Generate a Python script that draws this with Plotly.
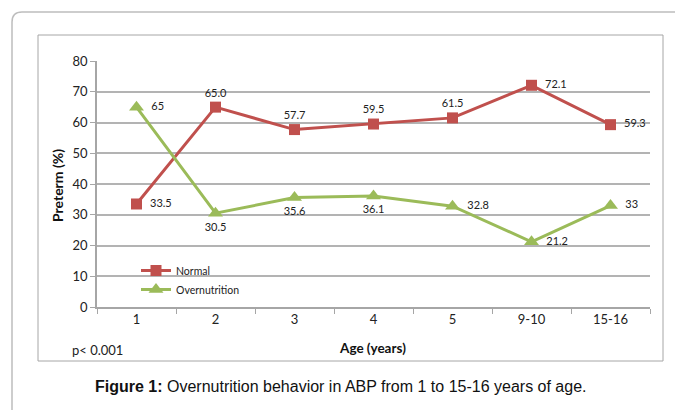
import plotly.graph_objects as go

categories = ["1", "2", "3", "4", "5", "9-10", "15-16"]
normal = [33.5, 65.0, 57.7, 59.5, 61.5, 72.1, 59.3]
normal_labels = ["33.5", "65.0", "57.7", "59.5", "61.5", "72.1", "59.3"]
normal_pos = ["middle right", "top center", "top center", "top center", "top center", "middle right", "middle right"]
overnutrition = [65, 30.5, 35.6, 36.1, 32.8, 21.2, 33]
over_labels = ["65", "30.5", "35.6", "36.1", "32.8", "21.2", "33"]
over_pos = ["middle right", "bottom center", "bottom center", "bottom center", "middle right", "middle right", "middle right"]
y_ticks = [0, 10, 20, 30, 40, 50, 60, 70, 80]

OFF = 8  # default page body margin
W, H = 683 - OFF, 410 - OFF
L, R, T, B = 97, 650, 61, 307

def px(x):
    return (x - L) / (R - L)

def py(y):
    return (B - y) / (B - T)

def pad_labels(labels, positions):
    return [("  " + t) if p == "middle right" else t for t, p in zip(labels, positions)]

RED = "#C0504D"
GREEN = "#9BBB59"
FONT = "Lato"

fig = go.Figure()
fig.add_trace(go.Scatter(
    x=categories, y=normal, name="Normal", mode="lines+markers+text",
    line=dict(color=RED, width=3), marker=dict(symbol="square", size=11, color=RED),
    text=pad_labels(normal_labels, normal_pos), textposition=normal_pos,
    textfont=dict(family=FONT, size=11, color="#222"),
))
fig.add_trace(go.Scatter(
    x=categories, y=overnutrition, name="Overnutrition", mode="lines+markers+text",
    line=dict(color=GREEN, width=3), marker=dict(symbol="triangle-up", size=13, color=GREEN),
    text=pad_labels(over_labels, over_pos), textposition=over_pos,
    textfont=dict(family=FONT, size=11, color="#222"),
))

shapes = [
    dict(type="path", xref="paper", yref="paper",
         path=f"M {px(12)},{py(412)} L {px(12)},{py(22)} Q {px(12)},{py(12)} {px(22)},{py(12)} L {px(684)},{py(12)}",
         line=dict(color="#BDBDBD", width=1.5)),
    dict(type="rect", xref="paper", yref="paper",
         x0=px(38), x1=px(663), y0=py(361), y1=py(35),
         line=dict(color="#A6A6A6", width=1)),
]

annotations = [
    dict(text="p< 0.001", xref="paper", yref="paper", x=px(70), y=py(350),
         xanchor="left", yanchor="middle", showarrow=False,
         font=dict(family=FONT, size=13, color="#222")),
    dict(text="<b>Figure 1:</b> Overnutrition behavior in ABP from 1 to 15-16 years of age.",
         xref="paper", yref="paper", x=px(341), y=py(386),
         xanchor="center", yanchor="middle", showarrow=False,
         font=dict(family="Liberation Sans", size=16, color="#111")),
    dict(text="<b>Age (years)</b>", xref="paper", yref="paper", x=px(372), y=py(348),
         xanchor="center", yanchor="middle", showarrow=False,
         font=dict(family=FONT, size=13.5, color="#111")),
    dict(text="<b>Preterm (%)</b>", xref="paper", yref="paper", x=px(57), y=py(186),
         xanchor="center", yanchor="middle", showarrow=False, textangle=-90,
         font=dict(family=FONT, size=14, color="#111")),
]

fig.update_layout(
    width=W, height=H,
    margin=dict(l=L - OFF, r=W - (R - OFF), t=T - OFF, b=H - (B - OFF), pad=0),
    paper_bgcolor="white", plot_bgcolor="white",
    shapes=shapes, annotations=annotations,
    showlegend=True,
    legend=dict(x=px(136), y=py(256), xanchor="left", yanchor="top",
                bgcolor="rgba(0,0,0,0)", font=dict(family=FONT, size=10.5, color="#222"),
                itemwidth=30, tracegroupgap=0),
    xaxis=dict(
        type="category", range=[-0.5, 6.5],
        showgrid=False, showline=True, linecolor="#A6A6A6", linewidth=1.5,
        ticks="outside", tickson="boundaries", ticklen=5, tickcolor="#A6A6A6",
        tickfont=dict(family=FONT, size=13, color="#222"),
        fixedrange=True,
    ),
    yaxis=dict(
        range=[0, 80], tickvals=y_ticks,
        showgrid=True, gridcolor="#B3B3B3", gridwidth=1.5,
        showline=True, linecolor="#A6A6A6", linewidth=1.5,
        ticks="outside", ticklen=5, tickcolor="#A6A6A6",
        tickfont=dict(family=FONT, size=13, color="#222"),
        zeroline=False, fixedrange=True,
    ),
)

fig.write_html("out.html")
